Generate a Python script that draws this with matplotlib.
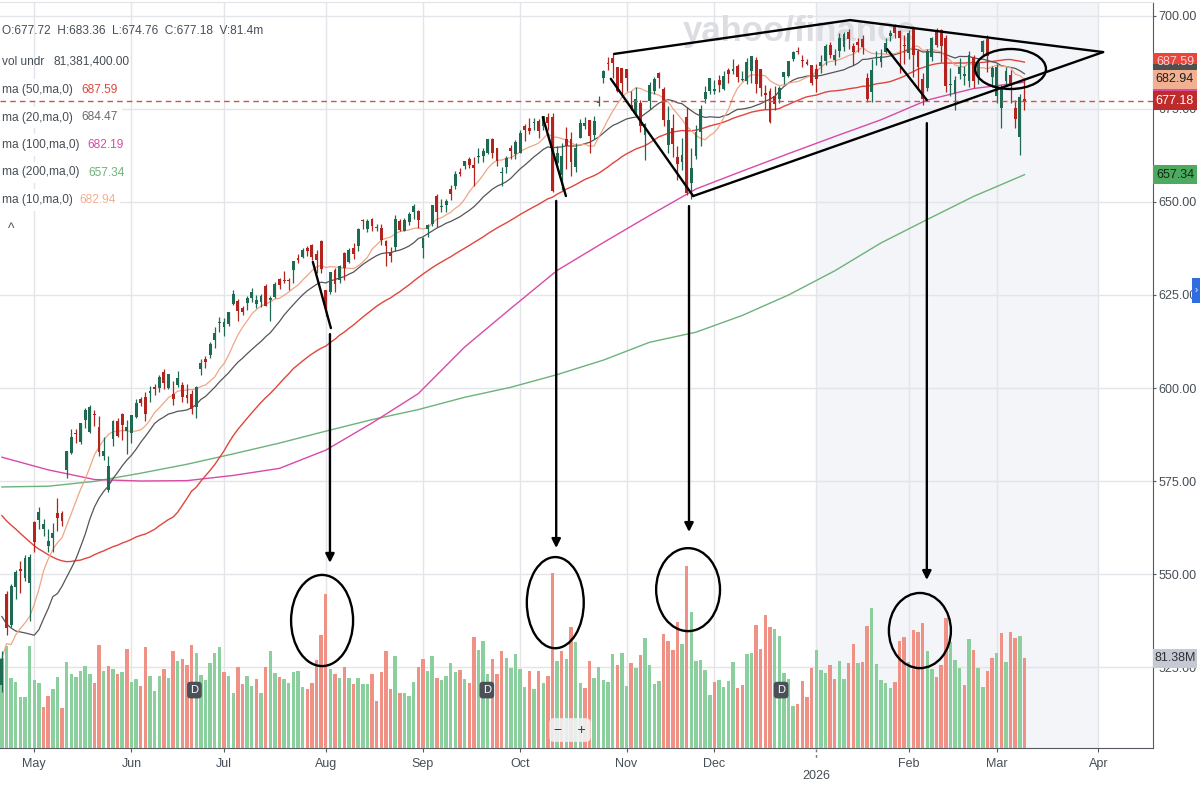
import numpy as np
import pandas as pd
import matplotlib
matplotlib.use("Agg")
import matplotlib.pyplot as plt
import matplotlib.transforms as mtransforms
from matplotlib.patches import Ellipse, Rectangle
from matplotlib.lines import Line2D

plt.rcParams['font.family'] = ['Liberation Sans', 'DejaVu Sans']

# ---------------------------------------------------------------- data
HOLIDAYS = ["2025-05-26", "2025-06-19", "2025-07-04", "2025-09-01", "2025-11-27",
            "2025-12-25", "2026-01-01", "2026-01-19", "2026-02-16", "2026-04-03"]
FIRST_DAY = "2025-04-22"
LAST_DAY = "2026-03-10"

# closes before the visible window (Feb 3 - Apr 21 2025), used for the moving averages
pre_closes = [597.77, 601.78, 604.22, 606.32, 600.77, 604.85, 605.31, 603.36, 609.73, 609.70,
              611.49, 612.93, 610.38, 599.94, 597.21, 594.24, 594.54, 584.32, 594.18,
              583.77, 576.86, 583.06, 572.71, 575.92, 560.58, 555.92, 558.87, 551.42, 562.81,
              567.15, 561.02, 567.13, 565.49, 563.98, 574.08, 575.46, 568.59, 567.08, 555.66, 559.39,
              560.97, 564.52, 536.70, 505.28, 504.38, 496.48, 548.62, 524.58, 533.94, 539.12,
              537.61, 525.66, 526.41, 513.88]

opens = [520.1, 544.5, 536.2, 546.5, 551.4, 548.9, 547.6,
         564.0, 564.6, 562.2, 557.6, 559.7, 566.4, 566.5, 578.0, 582.5, 587.8, 585.5, 591.3, 588.1, 593.1, 589.6, 581.8, 572.6, 586.3, 591.0, 593.0, 588.5,
         587.8, 592.3, 597.1, 597.6, 598.7, 600.2, 600.0, 604.2, 600.0, 598.5, 600.8, 600.9, 598.1, 598.4, 595.0, 605.0, 607.9, 608.9, 612.9, 617.4,
         616.4, 617.2, 622.5, 623.4, 621.4, 622.8, 624.2, 622.7, 623.2, 627.5, 623.7, 624.4, 629.3, 628.8, 629.1, 631.6, 635.0, 635.1, 637.5, 638.4, 636.0, 639.5,
         626.3, 625.7, 631.8, 629.0, 636.3, 634.0, 637.5, 638.3, 644.9, 642.8, 645.4, 642.9, 643.1, 639.4, 636.3, 637.8, 644.9, 642.2, 644.6, 647.2, 647.5,
         637.5, 642.7, 644.0, 651.5, 648.6, 649.1, 653.6, 654.2, 658.0, 659.6, 661.5, 660.0, 662.0, 662.3, 663.2, 666.9, 664.5, 657.9, 659.5, 664.4, 662.9,
         663.2, 670.5, 669.9, 671.2, 671.9, 670.3, 672.9, 672.9, 660.6, 657.2, 666.8, 666.8, 659.5, 667.3, 670.4, 672.0, 668.1, 676.5, 683.3, 687.1, 688.7, 686.2, 686.0,
         685.7, 676.1, 674.2, 676.5, 667.9, 677.2, 679.9, 684.8, 680.5, 665.4, 669.8, 662.1, 660.8, 672.9, 655.1, 662.4, 668.8, 677.6, 679.8,
         679.8, 682.7, 680.4, 685.6, 685.3, 686.6, 682.7, 682.6, 685.2, 688.2, 685.7, 679.2, 679.9, 678.6, 677.6, 683.7, 684.0, 688.4, 690.7, 687.9, 687.6, 686.7,
         685.7, 686.5, 687.9, 692.2, 688.3, 690.5, 691.7, 695.6, 691.8, 693.1, 693.7, 683.4, 679.6, 688.8, 687.7, 690.4, 694.6, 697.2, 696.0, 692.2,
         690.0, 696.5, 690.5, 683.0, 680.6, 688.9, 695.6, 696.1, 694.0, 681.5, 679.0, 684.4, 684.0, 682.5, 688.7, 683.5, 690.2, 693.9, 683.5,
         678.5, 675.3, 682.4, 684.2, 675.4, 667.5, 677.72]

highs = [529.3, 545.4, 547.4, 551.0, 553.5, 555.0, 555.5,
         564.3, 568.0, 564.7, 562.0, 563.8, 570.4, 567.0, 583.0, 589.0, 588.9, 590.6, 594.5, 595.5, 594.1, 592.6, 586.7, 581.6, 591.3, 592.0, 593.2, 591.3,
         592.8, 597.1, 597.6, 599.0, 600.5, 601.0, 603.4, 605.1, 603.8, 601.9, 604.5, 601.6, 601.2, 599.5, 600.5, 607.9, 608.6, 612.3, 616.4, 619.2,
         618.8, 620.5, 626.3, 624.0, 622.1, 624.7, 626.9, 624.9, 625.2, 627.9, 624.7, 628.4, 629.5, 631.5, 629.6, 634.2, 636.1, 637.6, 638.1, 638.7, 637.0, 639.8,
         626.3, 631.2, 632.2, 633.0, 636.5, 637.7, 639.0, 642.9, 645.3, 645.4, 645.6, 644.0, 644.1, 639.7, 637.9, 646.5, 645.3, 645.6, 647.4, 649.5, 647.8,
         640.5, 644.2, 649.2, 652.2, 650.9, 650.9, 654.6, 658.3, 659.1, 661.0, 662.0, 662.0, 664.4, 664.6, 667.0, 667.3, 664.6, 659.4, 662.4, 665.3, 666.7,
         669.4, 670.9, 672.7, 672.5, 672.2, 673.2, 673.9, 673.9, 665.1, 665.8, 670.2, 668.7, 665.8, 672.2, 672.9, 672.0, 673.0, 678.6, 685.5, 688.9, 689.7, 686.3, 686.1,
         685.8, 679.9, 680.9, 677.4, 671.1, 682.2, 683.6, 685.0, 680.9, 675.7, 673.7, 665.1, 667.3, 675.6, 664.6, 670.6, 676.2, 681.1, 683.4,
         682.9, 684.1, 685.1, 685.9, 688.4, 687.0, 685.3, 688.8, 689.3, 688.9, 685.7, 681.5, 680.6, 681.3, 681.1, 684.9, 688.0, 690.6, 691.7, 689.6, 688.4, 686.9,
         687.0, 689.4, 692.4, 693.1, 691.0, 695.3, 695.8, 696.6, 692.7, 694.0, 694.9, 684.6, 688.5, 690.7, 691.0, 694.0, 696.1, 697.8, 696.3, 694.9,
         696.3, 697.4, 691.0, 684.6, 691.2, 694.4, 696.9, 696.5, 694.9, 686.0, 684.0, 688.8, 686.5, 690.5, 689.6, 688.1, 693.6, 694.8, 686.6,
         687.0, 681.5, 686.3, 685.5, 677.5, 679.0, 683.36]

lows = [518.2, 533.6, 535.8, 543.3, 545.0, 548.0, 537.5,
        556.0, 562.0, 560.3, 556.0, 556.0, 561.6, 562.8, 575.7, 582.2, 585.1, 584.9, 589.3, 588.0, 589.7, 581.8, 580.7, 572.0, 584.5, 586.8, 586.1, 582.3,
        585.1, 591.9, 595.2, 591.1, 596.2, 598.2, 598.8, 599.7, 599.6, 595.5, 600.2, 596.3, 596.0, 593.1, 591.9, 603.4, 605.5, 608.0, 610.8, 615.0,
        614.0, 616.6, 622.4, 617.9, 619.5, 620.9, 623.0, 621.5, 621.8, 622.0, 618.1, 624.2, 626.5, 628.3, 626.3, 628.2, 633.7, 634.9, 635.5, 634.3, 631.0, 630.8,
        619.3, 625.3, 625.7, 628.1, 629.1, 633.7, 634.8, 636.8, 642.8, 641.8, 642.3, 642.2, 638.5, 632.9, 633.8, 636.9, 642.3, 642.1, 643.8, 645.4, 643.1,
        634.9, 640.5, 643.5, 643.3, 647.2, 647.2, 650.6, 653.6, 656.9, 658.9, 659.2, 654.3, 660.4, 660.8, 662.8, 661.9, 659.7, 654.4, 657.9, 661.6, 661.6,
        663.1, 666.4, 668.2, 669.4, 667.3, 669.4, 669.4, 652.8, 659.6, 653.2, 658.9, 657.1, 658.1, 667.3, 669.6, 663.2, 666.8, 675.8, 682.1, 685.6, 683.3, 679.7, 678.2,
        679.9, 674.6, 673.2, 668.7, 661.2, 675.0, 679.1, 680.6, 670.5, 663.3, 662.2, 655.9, 658.7, 651.9, 650.9, 661.6, 665.1, 676.7, 679.1,
        679.0, 679.5, 680.2, 681.9, 684.5, 682.2, 682.4, 681.8, 682.1, 679.2, 678.6, 674.9, 671.2, 674.8, 676.7, 681.8, 683.6, 687.9, 689.7, 686.3, 686.7, 681.4,
        679.6, 684.6, 686.8, 688.7, 686.9, 689.0, 690.6, 691.0, 686.7, 690.4, 689.9, 676.9, 676.8, 686.8, 686.2, 690.0, 693.3, 694.0, 684.8, 687.0,
        688.4, 683.5, 680.0, 676.2, 679.8, 688.0, 691.6, 687.5, 679.5, 678.5, 674.7, 683.0, 681.4, 680.9, 680.6, 681.7, 689.4, 684.9, 681.0,
        676.5, 669.9, 681.3, 676.6, 670.0, 662.7, 674.76]

closes = [527.25, 535.42, 546.69, 550.64, 550.85, 554.32, 554.54,
          558.47, 566.76, 563.51, 558.80, 561.15, 565.06, 564.34, 582.99, 586.84, 587.59, 590.46, 594.20, 594.85, 592.85, 582.86, 583.09, 579.11, 591.15, 587.21, 590.05, 589.39,
          592.71, 596.09, 595.93, 593.05, 599.14, 599.68, 603.08, 601.36, 603.75, 597.00, 602.68, 597.53, 597.44, 594.28, 600.15, 606.78, 607.12, 611.87, 614.91, 617.85,
          617.65, 620.45, 625.34, 620.68, 620.34, 624.06, 625.82, 623.62, 624.81, 622.14, 624.22, 628.04, 627.58, 628.77, 628.86, 634.21, 634.42, 637.10, 636.94, 635.26, 634.46, 632.08,
          621.72, 631.17, 627.97, 632.78, 632.25, 637.18, 635.92, 642.69, 644.89, 644.95, 643.44, 643.30, 639.81, 638.11, 635.55, 645.31, 642.47, 645.16, 646.79, 648.92, 645.05,
          640.27, 643.74, 649.12, 647.24, 648.83, 650.33, 652.21, 657.63, 657.41, 660.91, 660.00, 659.18, 662.26, 663.70, 666.84, 663.21, 661.10, 658.05, 661.82, 663.68, 666.18,
          668.45, 669.22, 669.21, 671.61, 669.12, 673.11, 671.16, 653.02, 663.04, 662.23, 665.17, 660.64, 664.39, 671.30, 671.29, 667.80, 671.76, 677.25, 685.24, 687.06, 687.39, 679.83, 682.06,
          683.34, 675.24, 677.58, 670.31, 670.97, 681.44, 683.00, 683.38, 672.04, 671.93, 665.67, 660.08, 662.63, 652.53, 659.03, 668.73, 675.02, 679.68, 683.39,
          680.27, 681.53, 683.89, 684.39, 685.69, 683.63, 683.04, 687.57, 689.17, 681.76, 680.73, 678.87, 671.40, 676.47, 680.59, 684.83, 687.96, 690.38, 690.31, 687.85, 687.01, 681.92,
          683.17, 687.72, 691.81, 689.58, 689.51, 694.07, 695.16, 693.77, 690.36, 692.24, 691.66, 677.58, 685.40, 688.98, 689.23, 692.73, 695.49, 695.42, 694.04, 691.97,
          695.41, 689.53, 686.19, 677.62, 690.62, 693.95, 692.12, 691.96, 681.27, 681.75, 682.85, 686.29, 684.48, 689.43, 682.39, 687.35, 693.15, 689.30, 685.99,
          686.38, 680.30, 685.10, 681.30, 672.40, 678.30, 677.18]

# volume in millions of shares
volumes = [81.6, 92.1, 63.2, 60.2, 46.5, 46.5, 92.1,
           61.7, 59.0, 36.9, 47.1, 53.9, 64.1, 36.4, 78.1, 66.8, 64.7, 70.3, 74.8, 66.8, 59.3, 93.6, 69.7, 74.8, 71.5, 67.4, 68.8, 89.4,
           60.2, 62.3, 56.3, 91.2, 65.3, 51.9, 65.0, 72.1, 63.2, 88.2, 78.7, 80.8, 75.7, 93.6, 86.1, 65.9, 61.4, 77.2, 85.8, 91.5,
           68.8, 65.3, 49.5, 73.9, 57.8, 65.0, 56.3, 62.3, 50.1, 73.3, 87.6, 67.9, 64.4, 62.3, 58.7, 69.4, 69.7, 55.7, 53.3, 59.3, 79.6, 102.5,
           139.8, 71.5, 67.4, 63.2, 73.3, 63.2, 57.8, 63.2, 58.4, 57.8, 66.8, 42.9, 68.8, 87.6, 53.3, 83.1, 50.1, 50.1, 47.4, 60.2, 73.3,
           80.8, 69.7, 83.8, 63.8, 61.7, 65.3, 76.9, 68.8, 71.2, 62.3, 59.3, 101.0, 89.1, 97.2, 66.8, 81.1, 67.4, 88.2, 81.6, 72.7, 85.2,
           72.1, 55.7, 69.7, 53.9, 70.3, 59.3, 65.3, 159.0, 78.7, 87.6, 80.8, 110.0, 96.0, 59.3, 54.8, 79.3, 63.8, 73.3, 62.0, 60.0, 85.0, 75.0, 86.0,
           56.0, 77.0, 73.0, 84.0, 100.0, 75.0, 58.0, 61.0, 103.0, 97.0, 89.0, 114.0, 94.0, 165.0, 123.0, 79.0, 80.0, 71.0, 48.0,
           60.0, 62.0, 55.0, 61.0, 78.0, 54.0, 57.0, 85.0, 86.0, 112.0, 90.0, 121.0, 110.0, 108.0, 102.0, 68.0, 63.0, 38.0, 40.0, 61.0, 46.0, 73.0,
           89.0, 71.0, 68.0, 75.0, 63.0, 79.0, 63.0, 77.0, 94.0, 77.0, 78.0, 111.0, 127.0, 76.0, 62.0, 59.0, 54.0, 60.0, 97.0, 101.0,
           78.0, 107.0, 105.0, 113.0, 88.0, 72.0, 64.0, 75.0, 118.0, 96.0, 80.0, 73.0, 57.0, 99.0, 89.0, 73.0, 55.0, 70.0, 82.0,
           86.0, 104.0, 78.0, 105.0, 100.0, 102.0, 81.38]

# long moving averages (trading-day index, value)
ma_long_idx = [0, 10, 20, 30, 40, 50, 60, 70, 80, 90, 100, 110, 120, 130, 140, 150, 160, 170, 180, 190, 200, 210, 221]
ma100_vals = [581.4, 578.0, 575.4, 575.0, 575.1, 576.5, 578.4, 583.3, 590.6, 598.5, 611.0, 621.4, 631.6,
              639.1, 646.4, 653.5, 658.3, 663.0, 667.6, 672.1, 677.4, 680.5, 682.19]
ma200_vals = [573.4, 573.6, 574.9, 577.1, 579.5, 582.3, 585.2, 588.4, 591.5, 594.2, 597.5, 600.2, 603.6,
              607.5, 612.3, 615.0, 619.5, 625.0, 631.5, 639.0, 645.3, 651.5, 657.34]

# hand-drawn annotations (trading-day index, price)
slash_lines = [[(67.2, 633.9), (71.1, 616.1)],
               [(116.9, 672.8), (121.9, 651.6)],
               [(131.6, 683.1), (149.4, 651.6)],
               [(191.3, 691.1), (199.9, 677.4)],
               [(132.3, 689.8), (183.3, 698.9), (238.0, 690.3)],
               [(149.4, 651.6), (238.0, 690.3)]]
arrows = [(70.9, 614.5, 553.0), (119.8, 650.3, 557.0), (148.5, 648.9, 561.3), (199.9, 671.2, 548.4)]
ellipses = [(218.0, 685.75, 15.3, 10.75), (69.2, 537.5, 13.4, 24.5), (119.6, 542.3, 12.3, 24.5),
            (148.3, 545.8, 13.8, 22.3), (198.4, 534.8, 13.4, 20.2)]
dividend_idx = [41.6, 104.8, 168.4]

legend_rows = [("ma (50,ma,0)", "687.59", "#e0463d"),
               ("ma (20,ma,0)", "684.47", "#6b6b6b"),
               ("ma (100,ma,0)", "682.19", "#d84aa6"),
               ("ma (200,ma,0)", "657.34", "#6cb27a"),
               ("ma (10,ma,0)", "682.94", "#f1b08f")]

# ---------------------------------------------------------------- prep
cbd = pd.offsets.CustomBusinessDay(holidays=HOLIDAYS)
dates = pd.date_range(FIRST_DAY, LAST_DAY, freq=cbd)
ext = pd.date_range(FIRST_DAY, "2026-05-29", freq=cbd)
o = np.array(opens); h = np.array(highs); l = np.array(lows); c = np.array(closes)
v = np.array(volumes)
n = len(c)
x = np.arange(n)

allc = pd.Series(pre_closes + closes)
npre = len(pre_closes)
ma10 = allc.rolling(10).mean().values[npre:]
ma20 = allc.rolling(20).mean().values[npre:]
ma50 = allc.rolling(50).mean().values[npre:]

month_starts = pd.date_range("2025-05-01", "2026-04-01", freq="MS")
tick_idx = [int(np.searchsorted(ext, m)) for m in month_starts]
tick_lab = [m.strftime("%b") for m in month_starts]
jan_pos = tick_idx[month_starts.get_loc(pd.Timestamp("2026-01-01"))]
apr_pos = tick_idx[-1]

UP_C, DN_C = "#1f6a52", "#b3241f"
VUP, VDN = "#8ccf9f", "#ef9185"
prev = np.concatenate([[pre_closes[-1]], c[:-1]])
vcol = np.where(c >= prev, VUP, VDN)
ccol = np.where(c >= o, UP_C, DN_C)

# ---------------------------------------------------------------- figure
W, H = 1200, 787
fig = plt.figure(figsize=(W / 100, H / 100), dpi=100)
fig.patch.set_facecolor("white")
rect = [0, (H - 748) / H, 1153 / W, (748 - 2) / H]
ax = fig.add_axes(rect, zorder=1)
axv = fig.add_axes(rect, zorder=2, sharex=ax)
axc = fig.add_axes(rect, zorder=3, sharex=ax, sharey=ax)
for a in (axv, axc):
    a.patch.set_visible(False)
    a.axis("off")

ax.set_xlim(-0.41, 248.78)
ax.set_ylim(503.23, 703.76)
VMAX = 81.38 * 746 / 89.7
axv.set_ylim(0, VMAX)

# background: shading, grid
ax.axvspan(jan_pos, apr_pos, color="#f4f5f9", zorder=0, lw=0)
GRID = "#e4e5ea"
for t in tick_idx:
    ax.axvline(t, color=GRID, lw=1, zorder=0.5)
for p in np.arange(525, 701, 25):
    ax.axhline(p, color=GRID, lw=1, zorder=0.5)
ax.text(800 / W, 1 - 31 / H, "yahoo/finance", transform=fig.transFigure, fontsize=25,
        fontweight="bold", color="#dcdde2", ha="center", va="center", zorder=0.6)

ax.spines["left"].set_visible(False)
ax.spines["right"].set_color("#555a60")
ax.spines["bottom"].set_color("#555a60")
ax.spines["top"].set_color("#e2e3e7")

ax.yaxis.tick_right()
yt = np.arange(525, 701, 25)
ax.set_yticks(yt)
ax.set_yticklabels([f"{p:.2f}" for p in yt])
ax.tick_params(axis="y", length=2.5, color="#555a60", labelsize=9, labelcolor="#464e56", pad=1.5)
xt = [t for t in tick_idx if t != jan_pos]
xl = [lab for t, lab in zip(tick_idx, tick_lab) if t != jan_pos]
ax.set_xticks(xt)
ax.set_xticklabels(xl)
ax.tick_params(axis="x", length=3, color="#555a60", labelsize=9, labelcolor="#464e56", pad=4)
tb = mtransforms.blended_transform_factory(ax.transData, fig.transFigure)
fig.add_artist(Line2D([jan_pos, jan_pos], [1 - 749 / H, 1 - 758 / H], transform=tb,
                      color="#777", lw=1, ls=(0, (2, 2))))
fig.text(jan_pos, 1 - 776 / H, "2026", transform=tb, fontsize=9, color="#464e56",
         ha="center", va="center")

# volume
axv.bar(x, v, width=0.74, color=vcol, lw=0, zorder=2)

# candles
axc.vlines(x, l, h, color=ccol, lw=0.9, zorder=4)
body_lo = np.minimum(o, c)
body_h = np.maximum(np.abs(c - o), 0.25)
axc.bar(x, body_h, bottom=body_lo, width=0.62, color=ccol, lw=0, zorder=5)

# moving averages
axc.plot(ma_long_idx, ma200_vals, color="#6cb27a", lw=1.0, zorder=3)
axc.plot(ma_long_idx, ma100_vals, color="#d84aa6", lw=1.0, zorder=3)
axc.plot(x, ma50, color="#e0463d", lw=1.0, zorder=3)
axc.plot(x, ma20, color="#555555", lw=0.9, zorder=3)
axc.plot(x, ma10, color="#f1a585", lw=0.9, zorder=3)

# last price dashed line
axc.axhline(c[-1], color="#d6504a", lw=1, ls=(0, (4, 3)), zorder=6)

# annotations
for pts in slash_lines:
    xs, ys = zip(*pts)
    axc.plot(xs, ys, color="black", lw=1.7, zorder=8, solid_capstyle="round")
for ax_x, y0, y1 in arrows:
    axc.annotate("", xy=(ax_x, y1), xytext=(ax_x, y0),
                 arrowprops=dict(arrowstyle="-|>", color="black", lw=1.7, mutation_scale=13,
                                 shrinkA=0, shrinkB=0), zorder=8)
for ex, ey, ew, eh in ellipses:
    axc.add_patch(Ellipse((ex, ey), ew, eh, fill=False, ec="black", lw=1.7, zorder=8))

# dividend markers
for d in dividend_idx:
    axc.text(d, 518.8, "D", color="white", fontsize=8, ha="center", va="center", zorder=9,
             bbox=dict(boxstyle="round,pad=0.3", fc="#4b5058", ec="none"))

# legend (top-left)
LC = "#464e56"
FS = 8.6
fig.text(2 / W, 1 - 31 / H, "O:677.72  H:683.36  L:674.76  C:677.18  V:81.4m", fontsize=FS,
         color=LC, ha="left", va="center", zorder=2.5)
fig.text(2 / W, 1 - 62 / H, "vol undr", fontsize=FS, color=LC, ha="left", va="center", zorder=2.5)
fig.text(53 / W, 1 - 62 / H, "81,381,400.00", fontsize=FS, color=LC, ha="left", va="center", zorder=2.5)
val_x = [81, 81, 87, 88, 79]
for i, (name, val, col) in enumerate(legend_rows):
    yy = 1 - (90 + 27.5 * i) / H
    fig.text(2 / W, yy, name, fontsize=FS, color=LC, ha="left", va="center", zorder=2.5,
             bbox=dict(fc="white", ec="none", pad=3.5))
    fig.text(val_x[i] / W, yy, val, fontsize=FS, color=col, ha="left", va="center", zorder=2.5,
             bbox=dict(fc="white", ec="none", pad=3.5))
fig.text(8 / W, 1 - 229 / H, "^", fontsize=10, color="#555", ha="left", va="center", zorder=2.5)

# right-side value labels (boxes stack like the reference; hidden ones keep only their colour strip)
def right_label(val, text, fc, tc, axes):
    yd = axes.transData.transform((0, val))[1]
    hh = 19
    fig.add_artist(Rectangle((1153 / W, (yd - hh / 2) / H), 44 / W, hh / H, transform=fig.transFigure,
                             facecolor=fc, edgecolor="none", zorder=5))
    if text:
        fig.text(1175 / W, yd / H, text, color=tc, fontsize=9, ha="center", va="center", zorder=5)

right_label(687.59, "687.59", "#e8463c", "#fbd0cc", ax)
right_label(684.47, None, "#4f4f4f", "white", ax)
right_label(682.19, None, "#d84aa6", "white", ax)
right_label(682.94, "682.94", "#f1b08f", "#1d1d1d", ax)
right_label(677.18, "677.18", "#bf2a2a", "white", ax)
right_label(657.34, "657.34", "#4daa5f", "#102a16", ax)
right_label(81.38, "81.38M", "#c6c9d1", "#2e3238", axv)

# blue side tab
fig.add_artist(Rectangle((1192 / W, 1 - 303 / H), 8 / W, 25 / H, transform=fig.transFigure,
                         facecolor="#2f6de1", edgecolor="none", zorder=6))
fig.text(1196 / W, 1 - 290 / H, "\u203a", color="white", fontsize=7, ha="center", va="center", zorder=7)

# zoom control
fig.text(570 / W, 1 - 730 / H, "\u2212    +", fontsize=10, color="#3a3f45", ha="center", va="center",
         zorder=7, bbox=dict(boxstyle="round,pad=0.35", fc="#f1f1f3", ec="none", alpha=0.9))

fig.savefig("out.png", dpi=100, facecolor="white")
